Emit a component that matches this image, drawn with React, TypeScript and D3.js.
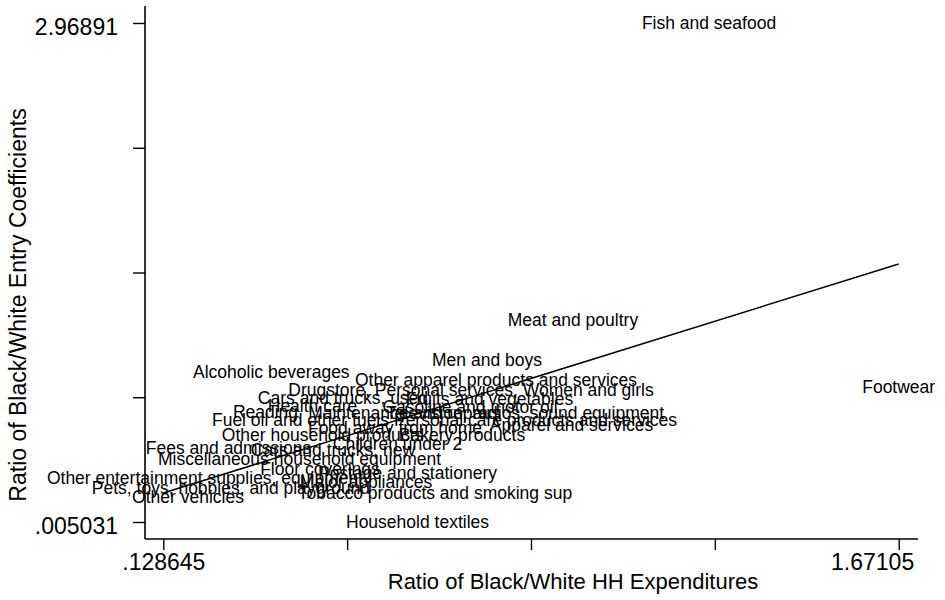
import React, { useEffect, useRef } from 'react';
import * as d3 from 'd3';

// expenditure categories (marker labels)
const categories = [
  'Fish and seafood',
  'Meat and poultry',
  'Footwear',
  'Men and boys',
  'Alcoholic beverages',
  'Other apparel products and services',
  'Drugstore, Personal services, Women and girls',
  'Cars and trucks, used',
  'Fruits and vegetables',
  'Health care',
  'Gasoline and motor oil',
  'Reading',
  'Maintenance and repairs',
  'Television, radios, sound equipment',
  'Fuel oil and other fuels',
  'Personal care products and services',
  'Food away from home',
  'Apparel and services',
  'Other household products',
  'Bakery products',
  'Children under 2',
  'Fees and admissions',
  'Cars and trucks, new',
  'Miscellaneous household equipment',
  'Floor coverings',
  'Postage and stationery',
  'Other entertainment supplies, equipment',
  'Major appliances',
  'Pets, toys, hobbies, and playground',
  'Other vehicles',
  'Tobacco products and smoking sup',
  'Household textiles',
];

// ratio of black/white household expenditures
const hhExpRatio = [
  1.2732, 0.9879, 1.67105, 0.8076, 0.3552, 0.8264, 0.774, 0.5055,
  0.8128, 0.4416, 0.7719, 0.343, 0.6345, 0.8873, 0.4164, 0.9093,
  0.6146, 0.9848, 0.4626, 0.7551, 0.6199, 0.2654, 0.4845, 0.4143,
  0.4573, 0.6408, 0.2161, 0.5538, 0.2706, 0.1805, 0.6985, 0.6618,
];

// ratio of black/white entry coefficients
const entryRatio = [
  2.96891, 1.2049, 0.8069, 0.9673, 0.896, 0.8485, 0.7891, 0.7416,
  0.7356, 0.694, 0.6881, 0.6584, 0.6525, 0.6525, 0.6109, 0.6109,
  0.5634, 0.5812, 0.5218, 0.5218, 0.4683, 0.4446, 0.4327, 0.3792,
  0.3198, 0.2961, 0.2664, 0.2426, 0.207, 0.1535, 0.1773, 0.005031,
];

// linear fit end points
const fitX = [0.128645, 1.67105];
const fitY = [0.1773, 1.5375];

const xTicks = [0.128645, 0.514246, 0.899848, 1.285449, 1.67105];
const xTickLabels = ['.128645', '', '', '', '1.67105'];
const yTicks = [0.005031, 0.746001, 1.486971, 2.22794, 2.96891];
const yTickLabels = ['.005031', '', '', '', '2.96891'];

const W = 945;
const H = 600;
const FONT = '"Liberation Sans", Arial, Helvetica, sans-serif';

export default function App() {
  const svgRef = useRef<SVGSVGElement>(null);

  useEffect(() => {
    document.body.style.margin = '0';
    if (!svgRef.current) return;
    const svg = d3.select(svgRef.current);
    svg.selectAll('*').remove();

    const x = d3.scaleLinear().domain([xTicks[0], xTicks[4]]).range([163.3, 898.7]);
    const y = d3.scaleLinear().domain([yTicks[0], yTicks[4]]).range([522, 23]);
    const axisLeftX = 145;
    const axisBottomY = 539;

    // axis lines
    svg.append('line')
      .attr('x1', axisLeftX).attr('x2', axisLeftX)
      .attr('y1', 6).attr('y2', axisBottomY)
      .attr('stroke', '#000').attr('stroke-width', 1.6);
    svg.append('line')
      .attr('x1', axisLeftX).attr('x2', 918)
      .attr('y1', axisBottomY).attr('y2', axisBottomY)
      .attr('stroke', '#000').attr('stroke-width', 1.6);

    const yAxis = svg.append('g')
      .attr('transform', `translate(${axisLeftX},0)`)
      .call(d3.axisLeft(y).tickValues(yTicks)
        .tickFormat((_, i) => yTickLabels[i])
        .tickSize(12).tickPadding(15));
    yAxis.select('.domain').remove();
    yAxis.selectAll('line').attr('stroke', '#000').attr('stroke-width', 1.4);
    yAxis.selectAll('text')
      .attr('dy', '0.5em')
      .attr('fill', '#000')
      .style('font-family', FONT)
      .style('font-size', '23px');

    const xAxis = svg.append('g')
      .attr('transform', `translate(0,${axisBottomY})`)
      .call(d3.axisBottom(x).tickValues(xTicks)
        .tickFormat((_, i) => xTickLabels[i])
        .tickSize(11).tickPadding(4));
    xAxis.select('.domain').remove();
    xAxis.selectAll('line').attr('stroke', '#000').attr('stroke-width', 1.4);
    xAxis.selectAll('text')
      .attr('fill', '#000')
      .style('font-family', FONT)
      .style('font-size', '23px');
    xAxis.selectAll<SVGTextElement, number>('text')
      .filter((d) => d === xTicks[4])
      .attr('text-anchor', 'end')
      .attr('dx', 15);

    // marker labels, centred on the points
    svg.append('g')
      .selectAll('text')
      .data(categories)
      .join('text')
      .attr('x', (_, i) => x(hhExpRatio[i]))
      .attr('y', (_, i) => y(entryRatio[i]))
      .attr('dy', '0.36em')
      .attr('text-anchor', 'middle')
      .attr('fill', '#000')
      .style('font-family', FONT)
      .style('font-size', '17.5px')
      .text((d) => d);

    // fitted line
    const line = d3.line<number>()
      .x((d) => x(d))
      .y((_, i) => y(fitY[i]));
    svg.append('path')
      .datum(fitX)
      .attr('d', line)
      .attr('fill', 'none')
      .attr('stroke', '#000')
      .attr('stroke-width', 1.5);

    // axis titles
    svg.append('text')
      .attr('x', 573).attr('y', 589)
      .attr('text-anchor', 'middle')
      .attr('fill', '#000')
      .style('font-family', FONT)
      .style('font-size', '22px')
      .text('Ratio of Black/White HH Expenditures');
    svg.append('text')
      .attr('transform', 'translate(26,305) rotate(-90)')
      .attr('text-anchor', 'middle')
      .attr('fill', '#000')
      .style('font-family', FONT)
      .style('font-size', '23px')
      .text('Ratio of Black/White Entry Coefficients');
  }, []);

  return <svg ref={svgRef} width={W} height={H} style={{ display: 'block', background: '#fff' }} />;
}
